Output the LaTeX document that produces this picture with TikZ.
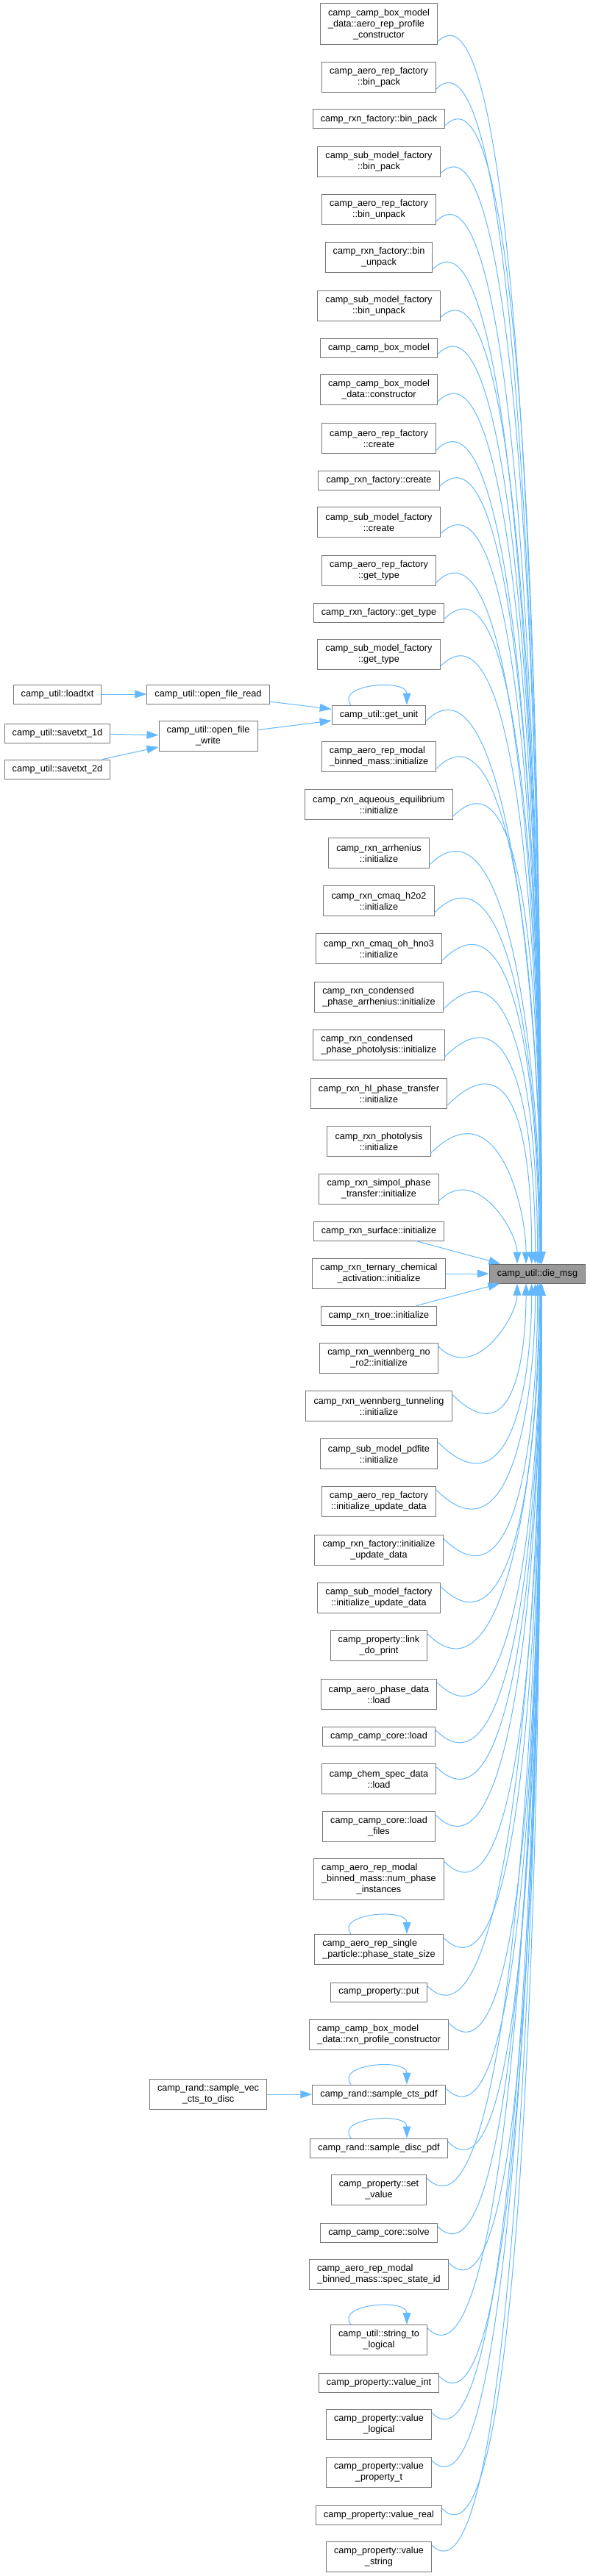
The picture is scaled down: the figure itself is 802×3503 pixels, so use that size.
\documentclass[tikz,border=0pt]{standalone}
\usepackage{fontspec}
\setmainfont{Liberation Sans}
\usetikzlibrary{arrows.meta, calc}
\definecolor{cedge}{HTML}{63B8FF}
\definecolor{cborder}{HTML}{777777}
\definecolor{cdark}{HTML}{666666}
\definecolor{cfill}{HTML}{999999}
\tikzset{
  every picture/.style={font=\fontsize{9.5}{11.25}\selectfont, line width=0.75pt},
  fn/.style={draw=cborder, fill=white, align=left, inner xsep=8pt, inner ysep=1pt, minimum height=#1},
  fn/.default=19.5pt,
  root/.style={fn, draw=cdark, fill=cfill},
  edge/.style={-{Triangle[length=12pt, width=8pt]}, draw=cedge, line width=0.75pt},
}
\newcommand{\selfloop}[1]{%
  \draw[edge] ($(#1.north)+(-38,0)$) .. controls +(-22,-28) and +(0,-36) .. ($(#1.north)+(38,0)$);}

\begin{document}
\begin{tikzpicture}[x=0.75pt, y=-0.75pt]
  \useasboundingbox (0,0) rectangle (802,3503);
  % callers of die_msg
  \foreach \i/\yy/\nrows/\lbl in {
    1/33/3/{camp\_camp\_box\_model\\\_data::aero\_rep\_profile\\\hfil\_constructor},
    2/105/2/{camp\_aero\_rep\_factory\\\hfil::bin\_pack},
    3/162/1/{camp\_rxn\_factory::bin\_pack},
    4/220/2/{camp\_sub\_model\_factory\\\hfil::bin\_pack},
    5/285/2/{camp\_aero\_rep\_factory\\\hfil::bin\_unpack},
    6/350/2/{camp\_rxn\_factory::bin\\\hfil\_unpack},
    7/416/2/{camp\_sub\_model\_factory\\\hfil::bin\_unpack},
    8/473/1/{camp\_camp\_box\_model},
    9/530/2/{camp\_camp\_box\_model\\\hfil\_data::constructor},
    10/596/2/{camp\_aero\_rep\_factory\\\hfil::create},
    11/653/1/{camp\_rxn\_factory::create},
    12/710/2/{camp\_sub\_model\_factory\\\hfil::create},
    13/776/2/{camp\_aero\_rep\_factory\\\hfil::get\_type},
    14/833/1/{camp\_rxn\_factory::get\_type},
    15/890/2/{camp\_sub\_model\_factory\\\hfil::get\_type},
    16/972/1/{camp\_util::get\_unit},
    17/1029/2/{camp\_aero\_rep\_modal\\\hfil\_binned\_mass::initialize},
    18/1094/2/{camp\_rxn\_aqueous\_equilibrium\\\hfil::initialize},
    19/1160/2/{camp\_rxn\_arrhenius\\\hfil::initialize},
    20/1225/2/{camp\_rxn\_cmaq\_h2o2\\\hfil::initialize},
    21/1290/2/{camp\_rxn\_cmaq\_oh\_hno3\\\hfil::initialize},
    22/1356/2/{camp\_rxn\_condensed\\\hfil\_phase\_arrhenius::initialize},
    23/1421/2/{camp\_rxn\_condensed\\\hfil\_phase\_photolysis::initialize},
    24/1487/2/{camp\_rxn\_hl\_phase\_transfer\\\hfil::initialize},
    25/1552/2/{camp\_rxn\_photolysis\\\hfil::initialize},
    26/1617/2/{camp\_rxn\_simpol\_phase\\\hfil\_transfer::initialize},
    27/1674/1/{camp\_rxn\_surface::initialize},
    28/1732/2/{camp\_rxn\_ternary\_chemical\\\hfil\_activation::initialize},
    29/1789/1/{camp\_rxn\_troe::initialize},
    30/1847/2/{camp\_rxn\_wennberg\_no\\\hfil\_ro2::initialize},
    31/1912/2/{camp\_rxn\_wennberg\_tunneling\\\hfil::initialize},
    32/1977/2/{camp\_sub\_model\_pdfite\\\hfil::initialize},
    33/2042/2/{camp\_aero\_rep\_factory\\\hfil::initialize\_update\_data},
    34/2108/2/{camp\_rxn\_factory::initialize\\\hfil\_update\_data},
    35/2173/2/{camp\_sub\_model\_factory\\\hfil::initialize\_update\_data},
    36/2238/2/{camp\_property::link\\\hfil\_do\_print},
    37/2304/2/{camp\_aero\_phase\_data\\\hfil::load},
    38/2361/1/{camp\_camp\_core::load},
    39/2419/2/{camp\_chem\_spec\_data\\\hfil::load},
    40/2484/2/{camp\_camp\_core::load\\\hfil\_files},
    41/2555/3/{camp\_aero\_rep\_modal\\\_binned\_mass::num\_phase\\\hfil\_instances},
    42/2651/2/{camp\_aero\_rep\_single\\\hfil\_particle::phase\_state\_size},
    43/2709/1/{camp\_property::put},
    44/2767/2/{camp\_camp\_box\_model\\\hfil\_data::rxn\_profile\_constructor},
    45/2848/1/{camp\_rand::sample\_cts\_pdf},
    46/2921/1/{camp\_rand::sample\_disc\_pdf},
    47/2978/2/{camp\_property::set\\\hfil\_value},
    48/3036/1/{camp\_camp\_core::solve},
    49/3093/2/{camp\_aero\_rep\_modal\\\hfil\_binned\_mass::spec\_state\_id},
    50/3182/2/{camp\_util::string\_to\\\hfil\_logical},
    51/3240/1/{camp\_property::value\_int},
    52/3297/2/{camp\_property::value\\\hfil\_logical},
    53/3362/2/{camp\_property::value\\\hfil\_property\_t},
    54/3420/1/{camp\_property::value\_real},
    55/3477/2/{camp\_property::value\\\hfil\_string}}
    \node[fn={8.25pt+11.25pt*\nrows}] (c\i) at (515,\yy) {\lbl};
  \node[root] (die) at (730.5,1732) {camp\_util::die\_msg};
  % second level callers
  \node[fn] (ld) at (78,944) {camp\_util::loadtxt};
  \node[fn] (rd) at (283,944) {camp\_util::open\_file\_read};
  \node[fn] (s1) at (78,997) {camp\_util::savetxt\_1d};
  \node[fn=30.75pt] (wr) at (283,1001) {camp\_util::open\_file\\\hfil\_write};
  \node[fn] (s2) at (78,1046) {camp\_util::savetxt\_2d};
  \node[fn=30.75pt] (sv) at (283,2848) {camp\_rand::sample\_vec\\\hfil\_cts\_to\_disc};
  \draw[edge] (ld) -- (rd);
  \draw[edge] (s1) -- (wr);
  \draw[edge] (s2) -- (wr);
  \draw[edge] (rd) -- (c16);
  \draw[edge] (wr) -- (c16);
  \draw[edge] (sv) -- (c45);
  % edges into die_msg
  \foreach \i in {27,28,29} \draw[edge] (c\i) -- (die);
  \foreach \i in {1,...,26}{
    \pgfmathsetmacro{\xo}{736-52*exp(-(27-\i)/2.2)-730.5}
    \draw[edge] let \p1=($(c\i.south east)+(0,-5)$), \p2=($(die.north)+(\xo,0)$),
      \n1={min(80,0.45*((\y1)-(\y2))/0.75)} in
      (\p1) .. controls ($(\p1)+(\n1,\n1)$) and (\x2,{0.5*(\y1+\y2)}) .. (\p2);
  }
  \foreach \i in {30,...,55}{
    \pgfmathsetmacro{\xo}{736-52*exp(-(\i-29)/2.2)-730.5}
    \draw[edge] let \p1=($(c\i.north east)+(0,5)$), \p2=($(die.south)+(\xo,0)$),
      \n1={min(80,0.45*((\y2)-(\y1))/0.75)} in
      (\p1) .. controls ($(\p1)+(\n1,-\n1)$) and (\x2,{0.5*(\y1+\y2)}) .. (\p2);
  }
  % recursive calls
  \foreach \i in {16,42,45,46,50} \selfloop{c\i};
\end{tikzpicture}
\end{document}
